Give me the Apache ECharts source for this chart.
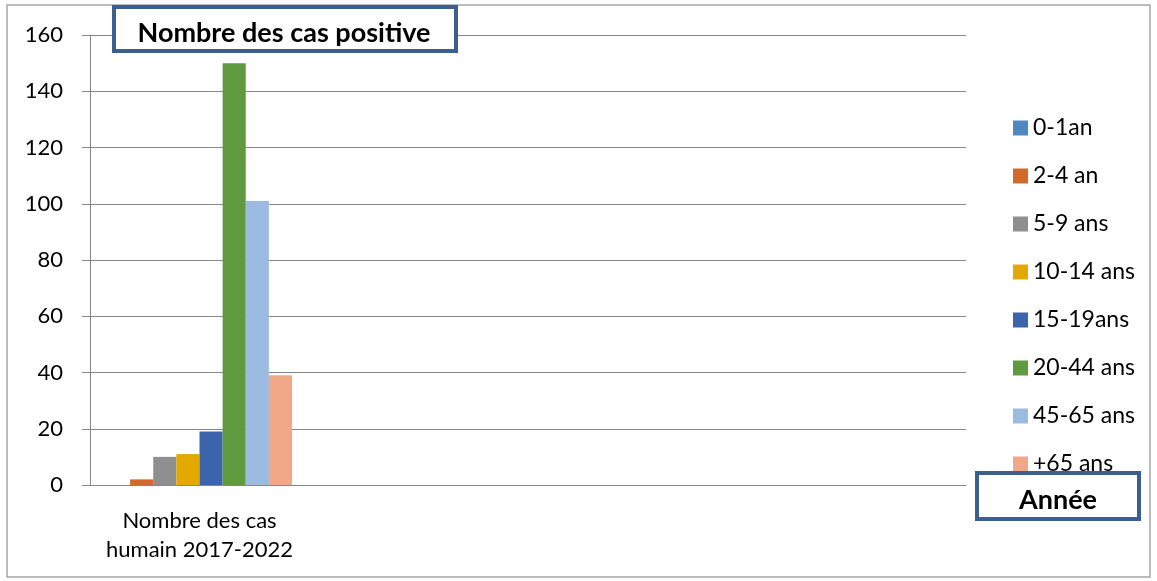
<!DOCTYPE html>
<html>
<head>
<meta charset="utf-8">
<script src="https://cdn.jsdelivr.net/npm/echarts@6/dist/echarts.min.js"></script>
<style>
  html, body { margin: 0; padding: 0; background: #fff; }
  #chart { width: 1157px; height: 581px; }
</style>
</head>
<body>
<div id="chart"></div>
<script>
// categories on the x axis (only the first one is used)
const categories = ['Nombre des cas\nhumain 2017-2022', '', '', '']
// age groups (legend)
const groups = ['0-1an', '2-4 an', '5-9 ans', '10-14 ans', '15-19ans', '20-44 ans', '45-65 ans', '+65 ans']
// number of positive cases per age group
const values = [0, 2, 10, 11, 19, 150, 101, 39]
const colors = ['#4F88C0', '#D2692A', '#8F8F8F', '#E2AA00', '#3C64AD', '#5F9A3E', '#9BBBE0', '#F0A889']

const font = 'Lato, "Open Sans", sans-serif'

const chart = echarts.init(document.getElementById('chart'))

const series = groups.map(function (name, i) {
    return {
        name: name,
        type: 'bar',
        barGap: 0,
        barCategoryGap: '15.5%',
        itemStyle: { color: colors[i] },
        data: [values[i], null, null, null]
    }
})

chart.setOption({
    animation: false,
    textStyle: { fontFamily: font },
    grid: { left: 90, right: 191, top: 35, bottom: 96 },
    legend: {
        orient: 'vertical',
        left: 1008,
        top: 111,
        height: 420,
        icon: 'rect',
        itemWidth: 15,
        itemHeight: 15,
        itemGap: 24,
        textStyle: { fontSize: 23, lineHeight: 24, color: '#000', fontFamily: font },
        data: groups
    },
    xAxis: {
        type: 'category',
        data: categories,
        axisLine: { lineStyle: { color: '#868686' } },
        axisTick: { length: 8, lineStyle: { color: '#868686' } },
        axisLabel: { interval: 0, fontSize: 22, lineHeight: 29, color: '#000', margin: 21 }
    },
    yAxis: {
        type: 'value',
        min: 0,
        max: 160,
        interval: 20,
        axisLine: { show: true, lineStyle: { color: '#868686' } },
        axisTick: { show: true, length: 8, lineStyle: { color: '#868686' } },
        axisLabel: { fontSize: 22, color: '#000', margin: 27 },
        splitLine: { lineStyle: { color: '#868686' } }
    },
    graphic: [
        {
            type: 'rect',
            z: 0,
            shape: { x: 7, y: 5, width: 1143, height: 572 },
            style: { fill: 'none', stroke: '#A6A6A6', lineWidth: 1.5 }
        },
        {
            type: 'rect',
            z: 100,
            shape: { x: 114, y: 7, width: 342, height: 44 },
            style: { fill: '#fff', stroke: '#3B5F8F', lineWidth: 4 }
        },
        {
            type: 'text',
            z: 101,
            x: 284,
            y: 33,
            style: {
                text: 'Nombre des cas positive',
                fontSize: 27,
                fontWeight: 'bold',
                fontFamily: font,
                fill: '#000',
                align: 'center',
                verticalAlign: 'middle'
            }
        },
        {
            type: 'rect',
            z: 100,
            shape: { x: 977, y: 473, width: 162, height: 46 },
            style: { fill: '#fff', stroke: '#3B5F8F', lineWidth: 4 }
        },
        {
            type: 'text',
            z: 101,
            x: 1058,
            y: 500,
            style: {
                text: 'Année',
                fontSize: 27,
                fontWeight: 'bold',
                fontFamily: font,
                fill: '#000',
                align: 'center',
                verticalAlign: 'middle'
            }
        }
    ],
    series: series
})
</script>
</body>
</html>
